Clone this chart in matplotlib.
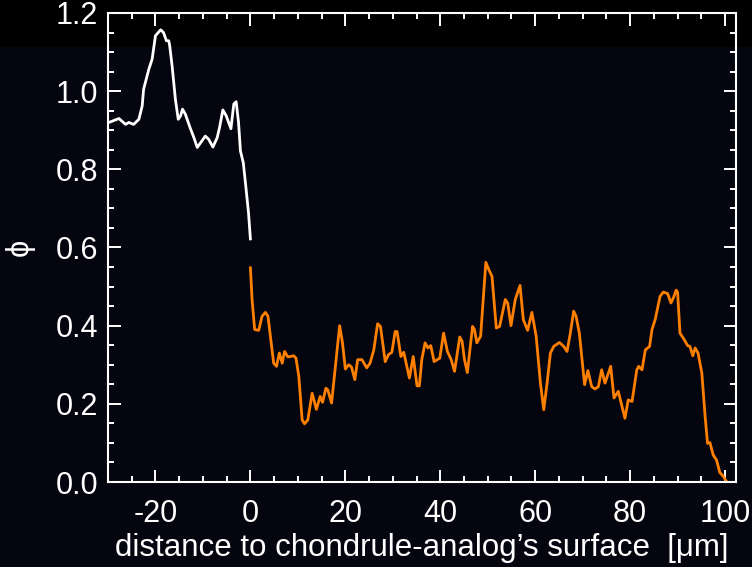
import numpy as np
import matplotlib.pyplot as plt
from matplotlib.patches import Rectangle
from matplotlib.ticker import MultipleLocator

# phi vs distance, white = inside the chondrule analog, orange = rim
x_in = [-29.8, -27.7, -26.3, -25.6, -24.6, -23.5, -22.8, -22.5, -21.4, -20.7,
        -20.0, -18.9, -18.3, -17.7, -17.2, -17.0, -16.5, -15.8, -15.2, -14.7,
        -14.3, -13.7, -12.6, -11.9, -11.2, -10.2, -9.5, -8.8, -7.9, -7.0,
        -6.5, -5.8, -5.1, -4.1, -3.5, -3.0, -2.5, -2.1, -1.5, -1.05, -0.4, 0.0]
phi_in = [0.920, 0.930, 0.915, 0.920, 0.915, 0.928, 0.962, 1.005, 1.056, 1.082,
          1.142, 1.157, 1.150, 1.129, 1.129, 1.116, 1.065, 0.979, 0.928, 0.937,
          0.954, 0.941, 0.903, 0.881, 0.856, 0.873, 0.885, 0.877, 0.857, 0.881,
          0.907, 0.952, 0.937, 0.904, 0.967, 0.973, 0.920, 0.847, 0.817, 0.766, 0.689, 0.622]

x_rim = [0.0, 0.35, 0.9, 1.75, 2.45, 3.16, 3.7, 4.2, 4.9, 5.5, 6.1, 6.7, 7.2, 7.9,
         8.4, 9.1, 9.6, 10.2, 10.9, 11.4, 12.1, 13.0, 13.9, 14.7, 15.2, 15.9, 16.3,
         17.1, 17.9, 18.8, 19.4, 20.0, 20.7, 21.3, 22.0, 22.6, 23.5, 24.5, 25.2,
         26.0, 26.8, 27.4, 28.4, 29.1, 29.8, 30.5, 30.9, 31.7, 32.3, 33.5, 34.3,
         35.1, 35.6, 36.1, 36.8, 37.4, 38.0, 38.7, 39.9, 40.7, 41.5, 42.3, 43.0,
         44.1, 44.6, 45.1, 45.7, 46.8, 47.2, 47.7, 48.5, 49.6, 50.2, 50.9, 51.8,
         52.5, 53.7, 54.2, 54.9, 55.8, 56.8, 57.5, 58.4, 59.3, 60.2, 61.1, 61.8,
         62.5, 63.2, 63.9, 65.1, 66.0, 66.7, 67.4, 68.1, 68.6, 69.3, 70.4, 71.1,
         71.9, 72.6, 73.3, 74.0, 74.7, 75.9, 76.6, 77.5, 78.9, 79.6, 80.4, 81.4,
         81.8, 82.5, 83.2, 84.1, 84.6, 85.3, 86.3, 87.0, 87.9, 88.6, 89.1, 89.7,
         90.0, 90.5, 91.2, 92.1, 92.6, 93.2, 93.7, 94.3, 95.1, 95.8, 96.3, 96.8,
         97.5, 98.2, 98.9, 99.6, 100.3, 101.0]
phi_rim = [0.548, 0.467, 0.390, 0.388, 0.424, 0.434, 0.424, 0.373, 0.304, 0.296,
           0.330, 0.304, 0.334, 0.320, 0.321, 0.323, 0.317, 0.270, 0.159, 0.149,
           0.159, 0.227, 0.186, 0.219, 0.204, 0.240, 0.236, 0.202, 0.296, 0.400,
           0.356, 0.289, 0.300, 0.294, 0.262, 0.313, 0.313, 0.292, 0.304, 0.338,
           0.405, 0.398, 0.308, 0.326, 0.332, 0.385, 0.385, 0.321, 0.332, 0.266,
           0.321, 0.246, 0.246, 0.313, 0.356, 0.343, 0.349, 0.308, 0.317, 0.381,
           0.334, 0.313, 0.283, 0.371, 0.360, 0.313, 0.280, 0.398, 0.390, 0.356,
           0.373, 0.562, 0.544, 0.526, 0.394, 0.398, 0.467, 0.458, 0.400, 0.467,
           0.503, 0.415, 0.388, 0.434, 0.373, 0.253, 0.185, 0.253, 0.330, 0.347,
           0.357, 0.347, 0.334, 0.381, 0.437, 0.424, 0.381, 0.249, 0.285, 0.244,
           0.238, 0.244, 0.287, 0.253, 0.296, 0.215, 0.232, 0.163, 0.210, 0.206,
           0.287, 0.296, 0.287, 0.338, 0.347, 0.390, 0.417, 0.475, 0.486, 0.482,
           0.458, 0.471, 0.491, 0.485, 0.381, 0.368, 0.349, 0.347, 0.323, 0.343,
           0.330, 0.279, 0.167, 0.099, 0.101, 0.069, 0.056, 0.024, 0.015, 0.001, -0.005]

plt.rcParams['font.family'] = ['Liberation Sans', 'DejaVu Sans']
plt.rcParams['axes.unicode_minus'] = False

bg = '#05050f'
fig = plt.figure(figsize=(7.52, 5.67), dpi=100, facecolor=bg)
# black strip along the top edge
fig.add_artist(Rectangle((0, 1 - 47/567.), 1, 47/567., transform=fig.transFigure,
                         facecolor='black', edgecolor='none', zorder=-1))

ax = fig.add_axes([108/752., 1 - 482/567., 628/752., 469/567.])
ax.set_facecolor('none')

ax.plot(x_in, phi_in, color='white', lw=2.0)
ax.plot(x_rim, phi_rim, color='#ff8000', lw=2.0)

ax.set_xlim(-30, 102.3)
ax.set_ylim(0, 1.2)

for s in ax.spines.values():
    s.set_color('white')
    s.set_linewidth(1.5)

ax.xaxis.set_major_locator(MultipleLocator(20))
ax.xaxis.set_minor_locator(MultipleLocator(5))
ax.yaxis.set_major_locator(MultipleLocator(0.2))
ax.yaxis.set_minor_locator(MultipleLocator(0.05))
ax.yaxis.set_major_formatter(plt.FormatStrFormatter('%.1f'))
ax.tick_params(which='both', direction='in', top=True, right=True,
               color='white', labelcolor='white', width=1.4, labelsize=22)
ax.tick_params(which='major', length=9)
ax.tick_params(which='minor', length=4.5)
ax.tick_params(axis='x', which='major', pad=12)
ax.tick_params(axis='y', which='major', pad=7)

ax.set_xlabel('distance to chondrule-analog\u2019s surface  [\u03bcm]', color='white',
              fontsize=22.5, labelpad=3)
ax.set_ylabel('\u03d5', color='white', fontsize=22)
ax.yaxis.set_label_coords(-0.117, 0.5)

fig.savefig('out.png', dpi=100, facecolor=bg)
